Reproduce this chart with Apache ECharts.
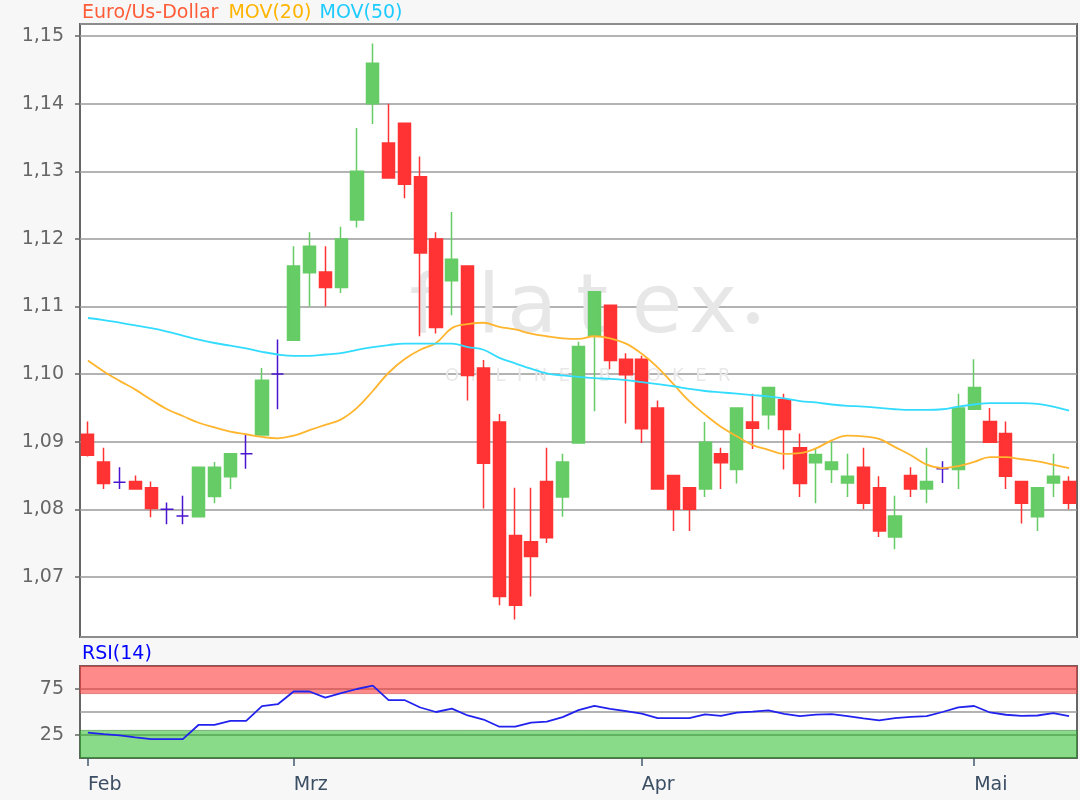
<!DOCTYPE html>
<html>
<head>
<meta charset="utf-8">
<script src="https://cdn.jsdelivr.net/npm/echarts@6/dist/echarts.min.js"></script>
<style>
  html, body { margin: 0; padding: 0; background: #f7f7f7; }
  #chart { width: 1080px; height: 800px; }
</style>
</head>
<body>
<div id="chart"></div>
<script>
// trading days shown on the chart
const days = [
  '2020-02-12', '2020-02-13', '2020-02-14', '2020-02-17', '2020-02-18', '2020-02-19', '2020-02-20',
  '2020-02-21', '2020-02-24', '2020-02-25', '2020-02-26', '2020-02-27', '2020-02-28',
  '2020-03-02', '2020-03-03', '2020-03-04', '2020-03-05', '2020-03-06', '2020-03-09', '2020-03-10',
  '2020-03-11', '2020-03-12', '2020-03-13', '2020-03-16', '2020-03-17', '2020-03-18', '2020-03-19',
  '2020-03-20', '2020-03-23', '2020-03-24', '2020-03-25', '2020-03-26', '2020-03-27', '2020-03-30',
  '2020-03-31',
  '2020-04-01', '2020-04-02', '2020-04-03', '2020-04-06', '2020-04-07', '2020-04-08', '2020-04-09',
  '2020-04-13', '2020-04-14', '2020-04-15', '2020-04-16', '2020-04-17', '2020-04-20', '2020-04-21',
  '2020-04-22', '2020-04-23', '2020-04-24', '2020-04-27', '2020-04-28', '2020-04-29', '2020-04-30',
  '2020-05-01', '2020-05-04', '2020-05-05', '2020-05-06', '2020-05-07', '2020-05-08', '2020-05-11'
];
const monthNames = {'01': 'Jan', '02': 'Feb', '03': 'Mrz', '04': 'Apr', '05': 'Mai'};

const open = [
  1.0911, 1.0870, 1.0840, 1.0841, 1.0832, 1.0800, 1.0790, 1.0789, 1.0819, 1.0848, 1.0882, 1.0910, 1.1000,
  1.1050, 1.1150, 1.1151, 1.1128, 1.1228, 1.1400, 1.1342, 1.1371, 1.1292, 1.1200, 1.1138, 1.1160, 1.1009,
  1.0929, 1.0761, 1.0752, 1.0841, 1.0818, 1.0898, 1.1056, 1.1102, 1.1022,
  1.1022, 1.0950, 1.0850, 1.0832, 1.0830, 1.0882, 1.0859, 1.0929, 1.0940, 1.0962, 1.0891, 1.0869, 1.0859,
  1.0839, 1.0862, 1.0832, 1.0759, 1.0850, 1.0830, 1.0860, 1.0859,
  1.0948, 1.0930, 1.0912, 1.0841, 1.0789, 1.0839, 1.0841
];
const close = [
  1.0880, 1.0838, 1.0840, 1.0830, 1.0801, 1.0800, 1.0790, 1.0862, 1.0862, 1.0882, 1.0882, 1.0991, 1.1000,
  1.1160, 1.1189, 1.1128, 1.1200, 1.1300, 1.1460, 1.1290, 1.1281, 1.1179, 1.1069, 1.1170, 1.0998, 1.0868,
  1.0671, 1.0658, 1.0730, 1.0758, 1.0870, 1.1041, 1.1122, 1.1020, 1.0999,
  1.0919, 1.0830, 1.0800, 1.0800, 1.0899, 1.0869, 1.0950, 1.0920, 1.0980, 1.0918, 1.0838, 1.0881, 1.0870,
  1.0849, 1.0809, 1.0768, 1.0790, 1.0830, 1.0841, 1.0860, 1.0950,
  1.0980, 1.0899, 1.0849, 1.0809, 1.0832, 1.0849, 1.0809
];
const low = [
  1.0878, 1.0830, 1.0830, 1.0830, 1.0788, 1.0778, 1.0778, 1.0789, 1.0809, 1.0830, 1.0860, 1.0910, 1.0948,
  1.1050, 1.1100, 1.1100, 1.1120, 1.1217, 1.1370, 1.1290, 1.1260, 1.1056, 1.1060, 1.1087, 1.0961, 1.0801,
  1.0658, 1.0637, 1.0671, 1.0750, 1.0789, 1.0898, 1.0945, 1.1007, 1.0927,
  1.0898, 1.0830, 1.0768, 1.0768, 1.0818, 1.0830, 1.0838, 1.0889, 1.0918, 1.0859, 1.0818, 1.0809, 1.0839,
  1.0818, 1.0800, 1.0759, 1.0741, 1.0818, 1.0809, 1.0839, 1.0830,
  1.0948, 1.0899, 1.0830, 1.0779, 1.0768, 1.0818, 1.0800
];
const high = [
  1.0930, 1.0891, 1.0862, 1.0850, 1.0841, 1.0810, 1.0820, 1.0862, 1.0870, 1.0882, 1.0910, 1.1009, 1.1051,
  1.1189, 1.1210, 1.1189, 1.1218, 1.1364, 1.1489, 1.1400, 1.1371, 1.1322, 1.1210, 1.1240, 1.1160, 1.1021,
  1.0941, 1.0832, 1.0832, 1.0891, 1.0882, 1.1048, 1.1122, 1.1102, 1.1031,
  1.1027, 1.0961, 1.0850, 1.0832, 1.0929, 1.0891, 1.0950, 1.0971, 1.0980, 1.0971, 1.0912, 1.0890, 1.0900,
  1.0882, 1.0891, 1.0849, 1.0820, 1.0862, 1.0891, 1.0871, 1.0971,
  1.1022, 1.0950, 1.0930, 1.0841, 1.0832, 1.0882, 1.0849
];
const mov20 = [
  1.1020, 1.1004, 1.0990, 1.0977, 1.0962, 1.0948, 1.0938, 1.0928, 1.0921, 1.0915, 1.0911, 1.0907, 1.0905,
  1.0909, 1.0917, 1.0925, 1.0933, 1.0950, 1.0975, 1.1002, 1.1022, 1.1036, 1.1046, 1.1068, 1.1074, 1.1076,
  1.1070, 1.1066, 1.1060, 1.1056, 1.1053, 1.1052, 1.1056, 1.1053, 1.1045,
  1.1030, 1.1010, 1.0985, 1.0960, 1.0940, 1.0922, 1.0908, 1.0895, 1.0888, 1.0882, 1.0883, 1.0890, 1.0902,
  1.0909, 1.0908, 1.0904, 1.0892, 1.0880, 1.0866, 1.0861, 1.0864,
  1.0870, 1.0877, 1.0877, 1.0874, 1.0871, 1.0866, 1.0861
];
const mov50 = [
  1.1083, 1.1080, 1.1076, 1.1072, 1.1068, 1.1063, 1.1057, 1.1051, 1.1046, 1.1042, 1.1038, 1.1033, 1.1029,
  1.1027, 1.1027, 1.1029, 1.1031, 1.1036, 1.1040, 1.1043, 1.1045, 1.1045, 1.1045, 1.1045, 1.1040, 1.1036,
  1.1024, 1.1016, 1.1008, 1.1001, 1.0998, 1.0996, 1.0994, 1.0993, 1.0991,
  1.0988, 1.0985, 1.0982, 1.0978, 1.0975, 1.0973, 1.0971, 1.0969, 1.0967, 1.0964, 1.0960, 1.0958, 1.0955,
  1.0953, 1.0952, 1.0950, 1.0948, 1.0947, 1.0947, 1.0948, 1.0952,
  1.0955, 1.0957, 1.0957, 1.0957, 1.0956, 1.0952, 1.0946
];
const rsi = [
  27.6, 26.0, 24.5, 22.5, 20.6, 20.6, 20.6, 36.1, 36.1, 40.3, 40.3, 56.3, 58.5,
  72.3, 72.3, 65.6, 70.5, 75.0, 78.7, 63.0, 63.0, 54.9, 50.0, 53.7, 46.2, 41.8,
  34.0, 34.0, 38.4, 39.5, 44.5, 52.0, 56.7, 53.5, 51.0,
  48.2, 43.3, 43.3, 43.3, 47.5, 45.8, 49.4, 50.5, 51.8, 48.0, 45.6, 47.2, 47.6,
  45.6, 43.0, 40.9, 43.3, 44.8, 45.6, 50.0, 55.0,
  56.5, 49.5, 47.0, 45.8, 46.2, 48.8, 45.6
];
const rsiLabels = [25, 75];
const rsiMid = 50;
const overbought = [70, 100];
const oversold = [0, 30];

const font = 'DejaVu Sans';
const fontSize = 19;
const candles = days.map((d, i) => [open[i], close[i], low[i], high[i]]);
const monthOf = (d) => d.slice(5, 7);
const isMonthStart = (i) => i === 0 || monthOf(days[i]) !== monthOf(days[i - 1]);

// light watermark of the broker logo, letter by letter
const logo = [['f', 424], ['l', 489], ['a', 532], ['t', 592], ['e', 657], ['x', 713]];
const watermark = logo.map(([ch, cx]) => ({
  type: 'text', x: cx, y: 270, z: 1, silent: true,
  style: {text: ch, font: '82px "DejaVu Sans"', fill: '#e7e7e7', align: 'center', verticalAlign: 'top'}
}));
watermark.push(
  {type: 'circle', x: 753, y: 318, z: 1, silent: true, shape: {r: 6}, style: {fill: '#e7e7e7'}},
  {
    type: 'text', x: 445, y: 367, z: 1, silent: true,
    style: {text: 'O  N  L  I  N  E     B  R  O  K  E  R', font: '18px "DejaVu Sans"', fill: '#e8e8e8'}
  }
);

const chart = echarts.init(document.getElementById('chart'), null, {renderer: 'canvas'});

const option = {
  backgroundColor: '#f7f7f7',
  animation: false,
  title: [
    {
      left: 82,
      top: 4,
      padding: 0,
      text: '{a|Euro/Us-Dollar} {b|MOV(20)} {c|MOV(50)}',
      textStyle: {
        fontFamily: font,
        fontSize: fontSize,
        fontWeight: 'normal',
        rich: {
          a: {color: '#ff5c38', fontFamily: font, fontSize: fontSize},
          b: {color: '#ffb400', fontFamily: font, fontSize: fontSize, padding: [0, 0, 0, 4]},
          c: {color: '#1ecbff', fontFamily: font, fontSize: fontSize, padding: [0, 0, 0, 2]}
        }
      }
    },
    {
      left: 82,
      top: 645,
      padding: 0,
      text: 'RSI(14)',
      textStyle: {color: '#0000ff', fontFamily: font, fontSize: fontSize, fontWeight: 'normal'}
    }
  ],
  graphic: watermark,
  grid: [
    {left: 80, right: 3, top: 24, bottom: 163, show: true, backgroundColor: '#ffffff', borderColor: '#666', borderWidth: 2},
    {left: 80, right: 3, top: 666, height: 92, show: true, backgroundColor: '#ffffff', borderColor: '#666', borderWidth: 2}
  ],
  xAxis: [
    {
      type: 'category', gridIndex: 0, data: days, boundaryGap: true,
      axisLine: {show: false}, axisTick: {show: false}, axisLabel: {show: false}, splitLine: {show: false}
    },
    {
      type: 'category', gridIndex: 1, data: days, boundaryGap: true,
      axisLine: {show: false},
      axisTick: {
        show: true, alignWithLabel: true, length: 8,
        interval: (i) => isMonthStart(i),
        lineStyle: {color: '#465a6e', width: 1.5}
      },
      axisLabel: {
        interval: (i) => isMonthStart(i),
        formatter: (v) => monthNames[monthOf(v)],
        align: 'left', margin: 18,
        color: '#3b4e63', fontFamily: font, fontSize: fontSize
      },
      splitLine: {show: false}
    }
  ],
  yAxis: [
    {
      type: 'value', gridIndex: 0, scale: true,
      min: 1.0611, max: 1.1518, splitNumber: 9, minInterval: 0.01, maxInterval: 0.01,
      axisLine: {show: false},
      axisTick: {show: true, length: 5, lineStyle: {color: '#666', width: 1.5}},
      axisLabel: {
        formatter: (v) => v.toFixed(2).replace('.', ','),
        showMinLabel: false, showMaxLabel: false,
        margin: 16, color: '#666', fontFamily: font, fontSize: fontSize
      },
      splitLine: {lineStyle: {color: '#9a9a9a', width: 1.5}}
    },
    {
      type: 'value', gridIndex: 1, min: 0, max: 100, interval: 25,
      axisLine: {show: false},
      axisTick: {show: true, length: 5, customValues: rsiLabels, lineStyle: {color: '#666', width: 1.5}},
      axisLabel: {
        customValues: rsiLabels,
        formatter: (v) => (rsiLabels.includes(v) ? String(v) : ''),
        margin: 16, color: '#666', fontFamily: font, fontSize: fontSize
      },
      splitLine: {lineStyle: {color: '#8a8a8a', width: 1.5}}
    }
  ],
  series: [
    {
      name: 'Euro/Us-Dollar',
      type: 'candlestick',
      xAxisIndex: 0, yAxisIndex: 0,
      data: candles,
      barWidth: '80%',
      z: 3,
      itemStyle: {
        color: '#66cc66', color0: '#ff3333',
        borderColor: '#66cc66', borderColor0: '#ff3333',
        borderColorDoji: '#4a14d0',
        borderWidth: 1.5
      }
    },
    {
      name: 'MOV(20)', type: 'line', xAxisIndex: 0, yAxisIndex: 0,
      data: mov20, smooth: 0.4, symbol: 'none', z: 4,
      lineStyle: {color: '#ffb52e', width: 1.8}
    },
    {
      name: 'MOV(50)', type: 'line', xAxisIndex: 0, yAxisIndex: 0,
      data: mov50, smooth: 0.4, symbol: 'none', z: 4,
      lineStyle: {color: '#33dcff', width: 1.8}
    },
    {
      name: 'RSI(14)', type: 'line', xAxisIndex: 1, yAxisIndex: 1,
      data: rsi, symbol: 'none', z: 5,
      lineStyle: {color: '#2222ee', width: 1.8},
      markArea: {
        silent: true,
        data: [
          [{yAxis: overbought[0], itemStyle: {color: 'rgba(255,60,60,0.6)', borderColor: 'rgba(200,60,60,0.5)', borderWidth: 1}}, {yAxis: overbought[1]}],
          [{yAxis: oversold[0], itemStyle: {color: 'rgba(40,190,40,0.55)', borderColor: 'rgba(40,120,40,0.5)', borderWidth: 1}}, {yAxis: oversold[1]}]
        ]
      },
      markLine: {
        silent: true, symbol: 'none', label: {show: false},
        lineStyle: {color: '#9a9a9a', type: 'solid', width: 1.5},
        data: [{yAxis: rsiMid}]
      }
    }
  ]
};

chart.setOption(option);
window.addEventListener('resize', () => {
  chart.resize();
});
</script>
</body>
</html>
